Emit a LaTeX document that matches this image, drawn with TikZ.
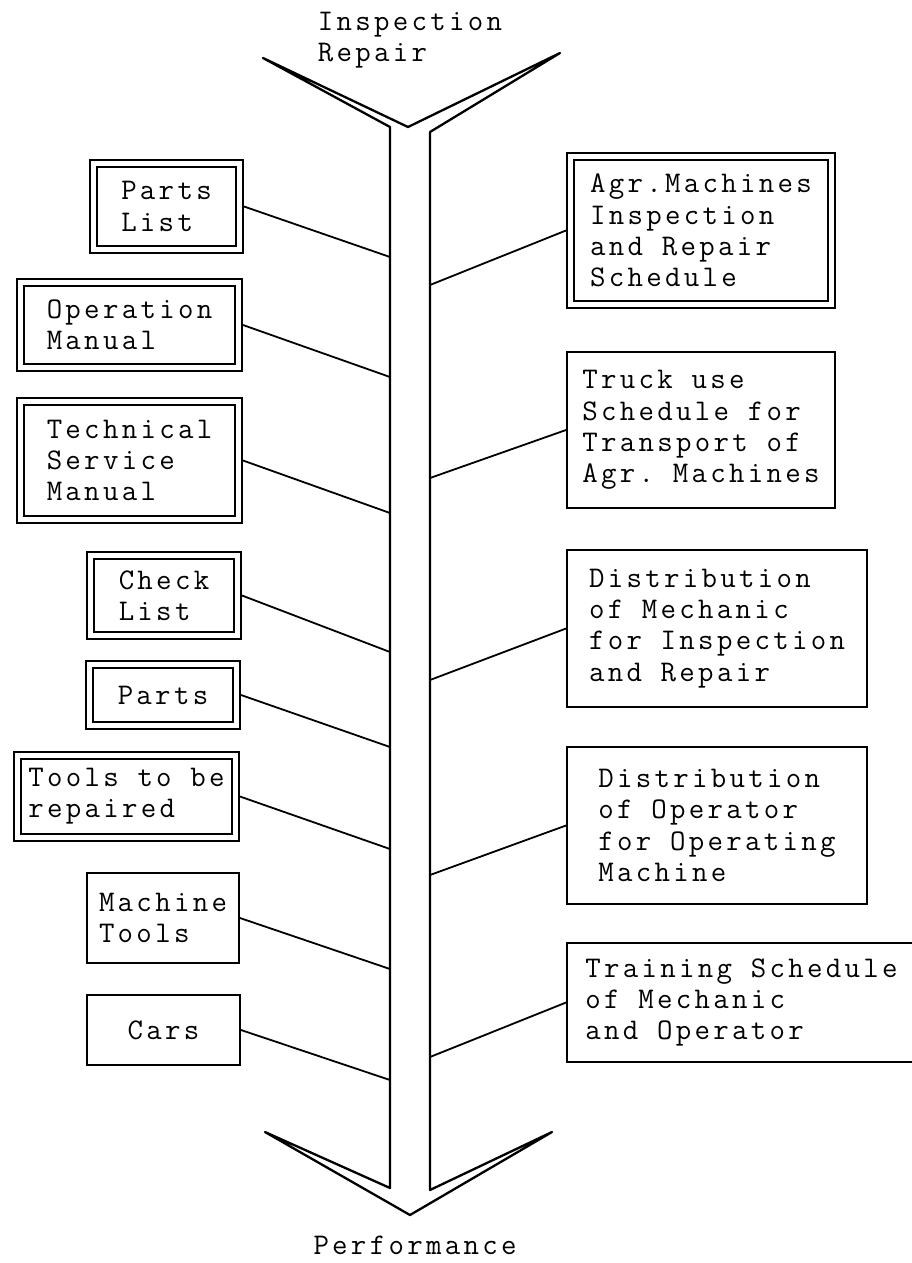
\documentclass[tikz,border=0pt]{standalone}
\usepackage{fontspec}
\setmonofont{Latin Modern Mono}[LetterSpace=11]

\begin{document}
\begin{tikzpicture}[
        x=1pt, y=-1pt,
        every node/.style={font=\ttfamily\fontsize{30}{31.3}\selectfont, align=left, inner sep=0pt},
        sbox/.style={draw, line width=1.9pt},
        dbox/.style={draw, line width=1.8pt, double, double distance=5.4pt, outer sep=4.5pt},
        link/.style={line width=1.8pt}
    ]
    \clip (0,0) rectangle (912,1263);

    \draw [line width=2.3pt, line join=round] (390,127) -- (390,1188) -- (265,1132) -- (410,1215) -- (552,1132)
        -- (430,1190) -- (430,132) -- (560,53) -- (408,127) -- (263,58) -- cycle;

    \node (inrep) at (410,40) {Inspection\\Repair};
    \node (perf) at (415,1245) {Performance};

    \node [dbox, minimum width=146pt, minimum height=86pt] (partslist) at (166.5,206.5) {Parts\\List};
    \node [dbox, minimum width=218pt, minimum height=85pt] (opmanual) at (129.5,325) {Operation\\Manual};
    \node [dbox, minimum width=218pt, minimum height=118pt] (techmanual) at (129.5,460.5) {Technical\\Service\\Manual};
    \node [dbox, minimum width=147pt, minimum height=80pt] (checklist) at (164,595.5) {Check\\List};
    \node [dbox, minimum width=147pt, minimum height=61pt] (parts) at (163,695) {Parts};
    \node [dbox, minimum width=218pt, minimum height=82pt] (tools) at (126.5,796.5) {Tools to be\\repaired};
    \node [sbox, minimum width=152pt, minimum height=90pt] (machtools) at (163,918) {Machine\\Tools};
    \node [sbox, minimum width=153pt, minimum height=70pt] (cars) at (163.5,1030) {Cars};

    \node [dbox, minimum width=261pt, minimum height=148pt] (agrsched) at (701,230.5) {Agr.Machines\\Inspection\\and Repair\\Schedule};
    \node [sbox, minimum width=268pt, minimum height=156pt] (truck) at (701,430) {Truck use\\Schedule for\\Transport of\\Agr. Machines};
    \node [sbox, minimum width=300pt, minimum height=157pt] (mechdist) at (717,628.5) {Distribution\\of Mechanic\\for Inspection\\and Repair};
    \node [sbox, minimum width=300pt, minimum height=157pt] (operdist) at (717,825.5) {Distribution\\of Operator\\for Operating\\Machine};
    \node [sbox, minimum width=349pt, minimum height=119pt] (training) at (741.5,1002.5) {Training Schedule\\of Mechanic\\and Operator};

    \foreach \b/\y in {partslist/257, opmanual/377, techmanual/513, checklist/652, parts/747, tools/849, machtools/969, cars/1080} {
        \coordinate (L-\b) at (390,\y);
        \draw [link] (\b.east) -- (L-\b);
    }
    \foreach \b/\y in {agrsched/285, truck/478, mechdist/680, operdist/875, training/1057} {
        \coordinate (R-\b) at (430,\y);
        \draw [link] (R-\b) -- (\b.west);
    }
\end{tikzpicture}
\end{document}
